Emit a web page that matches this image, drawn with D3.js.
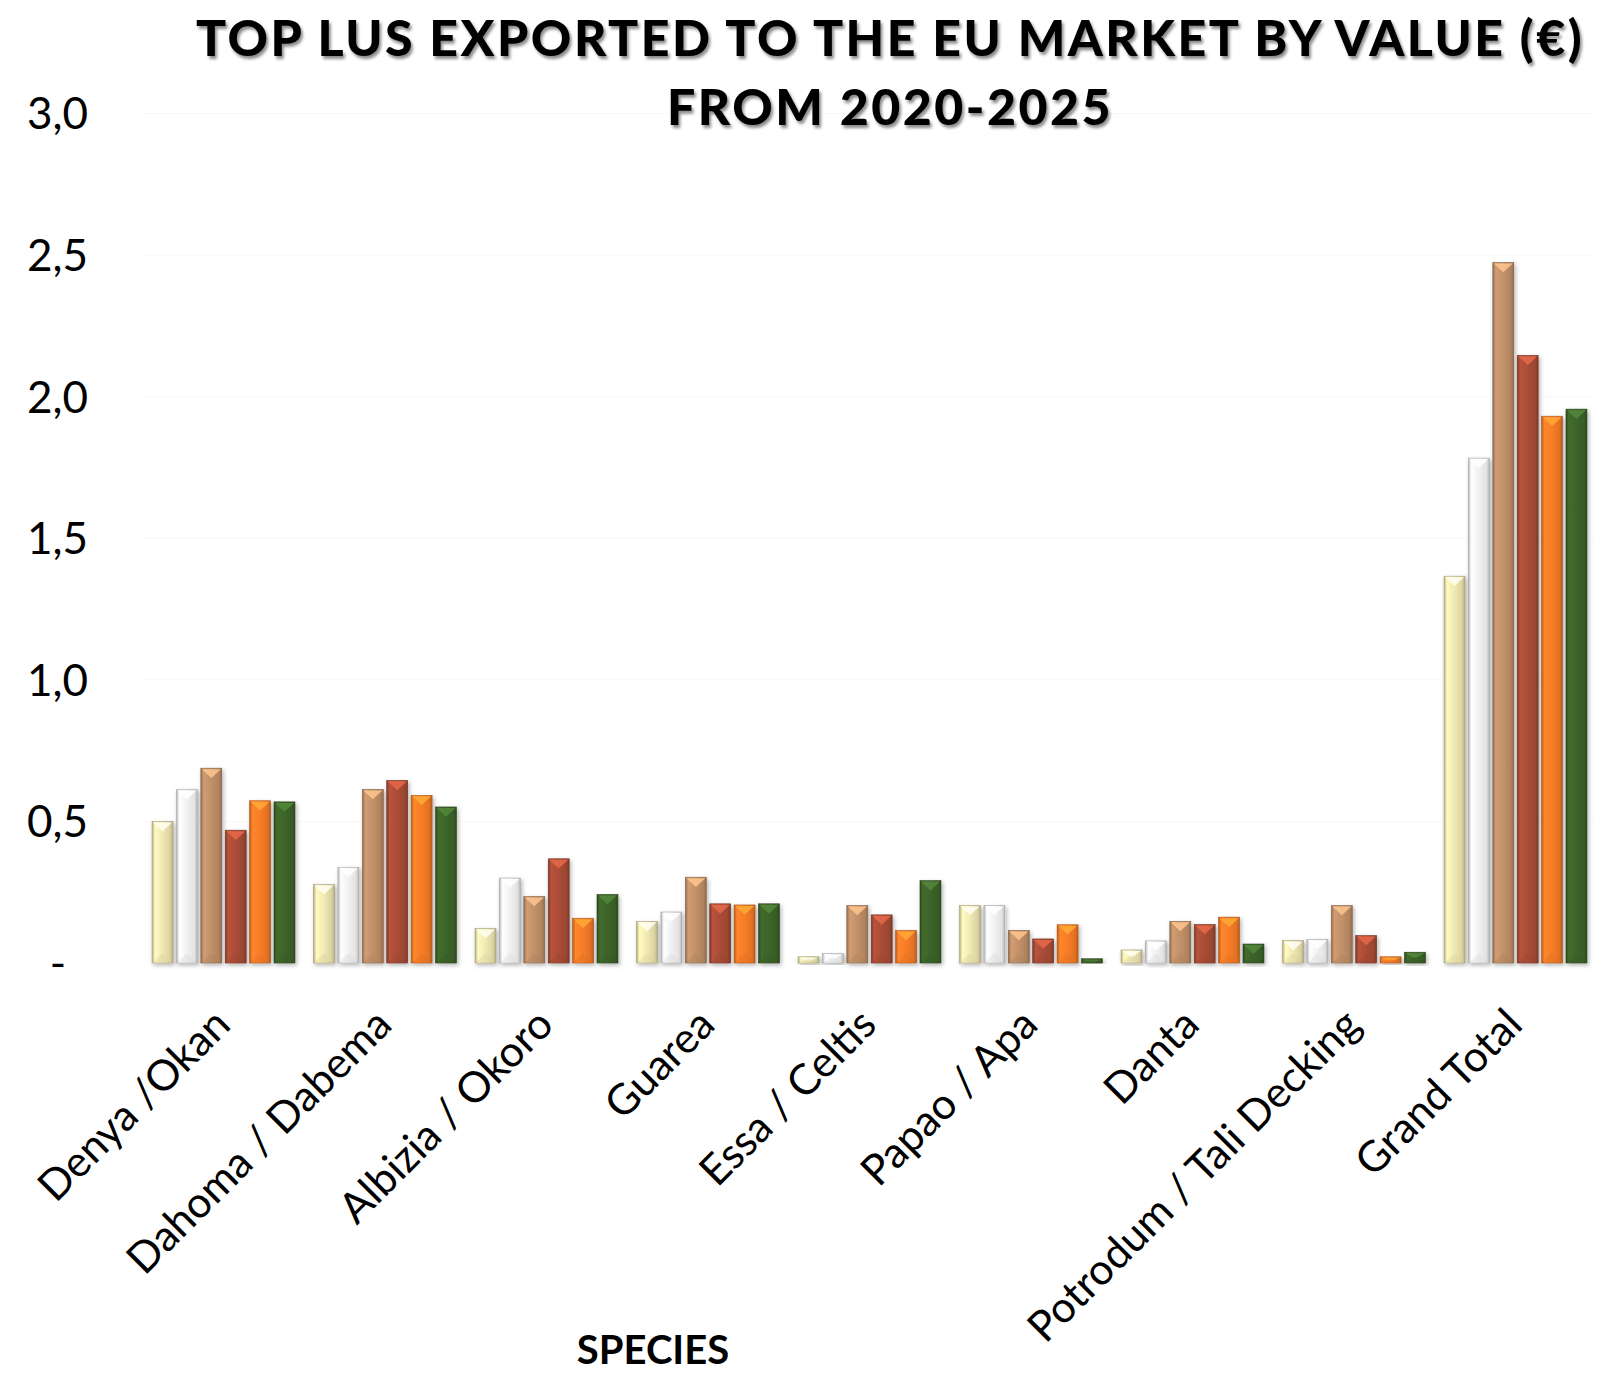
<!DOCTYPE html>
<html lang="en">
<head>
    <meta charset="UTF-8">
    <script src="https://d3js.org/d3.v7.min.js"></script>
    <title>Top LUS exported to the EU market by value</title>
    <style>
        body {
            margin: 0;
            background: #fff;
            font-family: Lato, "Open Sans", sans-serif;
        }
        .tick line, .domain {
            display: none;
        }
    </style>
</head>
<body>
    <div id="chart"></div>

    <script>
        // categories and yearly values
        const species = ["Denya /Okan", "Dahoma / Dabema", "Albizia / Okoro", "Guarea", "Essa / Celtis",
            "Papao / Apa", "Danta", "Potrodum / Tali Decking", "Grand Total"];
        const years = ["2020", "2021", "2022", "2023", "2024", "2025"];

        const v2020 = [0.50, 0.277, 0.122, 0.147, 0.022, 0.203, 0.046, 0.079, 1.366];
        const v2021 = [0.612, 0.338, 0.300, 0.180, 0.033, 0.203, 0.078, 0.083, 1.783];
        const v2022 = [0.688, 0.613, 0.235, 0.303, 0.203, 0.115, 0.147, 0.203, 2.474];
        const v2023 = [0.469, 0.645, 0.368, 0.209, 0.170, 0.085, 0.136, 0.097, 2.146];
        const v2024 = [0.573, 0.592, 0.158, 0.205, 0.115, 0.135, 0.162, 0.022, 1.931];
        const v2025 = [0.569, 0.551, 0.242, 0.209, 0.291, 0.015, 0.067, 0.038, 1.956];
        const seriesValues = [v2020, v2021, v2022, v2023, v2024, v2025];

        const yTicks = [0, 0.5, 1.0, 1.5, 2.0, 2.5, 3.0];
        const colors = ["#eee6b0", "#efefef", "#bf8f68", "#a84c36", "#f57b27", "#3c6329"];

        const W = 1613, H = 1373;

        const svg = d3.select("#chart")
            .append("svg")
            .attr("width", W)
            .attr("height", H);

        const defs = svg.append("defs");

        // soft shadow under bars
        const shadow = defs.append("filter").attr("id", "barShadow")
            .attr("x", "-30%").attr("y", "-10%").attr("width", "160%").attr("height", "130%");
        shadow.append("feDropShadow")
            .attr("dx", 1.5).attr("dy", 2).attr("stdDeviation", 2)
            .attr("flood-color", "#000").attr("flood-opacity", 0.3);

        const titleShadow = defs.append("filter").attr("id", "titleShadow")
            .attr("x", "-5%").attr("y", "-20%").attr("width", "110%").attr("height", "150%");
        titleShadow.append("feDropShadow")
            .attr("dx", 2).attr("dy", 3).attr("stdDeviation", 1.5)
            .attr("flood-color", "#000").attr("flood-opacity", 0.45);

        // bevel-like horizontal gradient per series
        colors.forEach((c, i) => {
            const base = d3.color(c);
            const g = defs.append("linearGradient").attr("id", "grad" + i)
                .attr("x1", "0%").attr("x2", "100%").attr("y1", "0%").attr("y2", "0%");
            const edge = i === 1 ? "#b5b5b5" : base.darker(0.8);
            const hi = i === 1 ? "#ffffff" : base.brighter(0.25);
            g.append("stop").attr("offset", "0%").attr("stop-color", edge);
            g.append("stop").attr("offset", "14%").attr("stop-color", hi);
            g.append("stop").attr("offset", "55%").attr("stop-color", c);
            g.append("stop").attr("offset", "86%").attr("stop-color", i === 1 ? "#e2e2e2" : base.darker(0.25));
            g.append("stop").attr("offset", "100%").attr("stop-color", edge);
        });

        // scales
        const x0 = d3.scaleBand()
            .domain(species)
            .range([143, 1596])
            .paddingInner(0.115)
            .paddingOuter(0.056);

        const x1 = d3.scaleBand()
            .domain(years)
            .range([0, x0.bandwidth()])
            .paddingInner(0.14);

        const y = d3.scaleLinear()
            .domain([0, 3])
            .range([963, 113.5]);

        // very faint gridlines
        svg.append("g")
            .selectAll("line")
            .data(yTicks.filter(d => d > 0))
            .join("line")
            .attr("x1", 143)
            .attr("x2", 1596)
            .attr("y1", d => y(d))
            .attr("y2", d => y(d))
            .attr("stroke", "#f8f8f8")
            .attr("stroke-width", 1);

        // y axis
        const yAxis = svg.append("g")
            .attr("transform", "translate(88,0)")
            .call(d3.axisLeft(y)
                .tickValues(yTicks)
                .tickSize(0)
                .tickPadding(0)
                .tickFormat(d => d === 0 ? "-" : d3.format(".1f")(d).replace(".", ",")));
        yAxis.selectAll("text")
            .style("font-family", "Lato, sans-serif")
            .style("font-size", "44px")
            .attr("fill", "#000")
            .attr("dy", "0.35em");
        yAxis.selectAll(".tick")
            .filter(d => d === 0)
            .select("text")
            .attr("x", -22);

        // bars
        const rows = [];
        species.forEach((s, si) => {
            years.forEach((yr, yi) => {
                rows.push({ species: s, year: yr, idx: yi, value: seriesValues[yi][si] });
            });
        });

        const groups = svg.append("g")
            .selectAll("g")
            .data(rows)
            .join("g")
            .attr("transform", d => `translate(${x0(d.species) + x1(d.year)},0)`);

        const bw = x1.bandwidth();

        groups.append("rect")
            .attr("x", 0)
            .attr("y", d => y(d.value))
            .attr("width", bw)
            .attr("height", d => y(0) - y(d.value))
            .attr("fill", d => `url(#grad${d.idx})`)
            .attr("stroke", d => d.idx === 1 ? "#a8a8a8" : d3.color(colors[d.idx]).darker(1))
            .attr("stroke-width", 0.6)
            .attr("filter", "url(#barShadow)");

        // top bevel triangle
        groups.append("path")
            .attr("d", d => {
                const top = y(d.value);
                const h = Math.min(bw * 0.42, (y(0) - top) / 2);
                return `M1,${top + 1} L${bw - 1},${top + 1} L${bw / 2},${top + 1 + h} Z`;
            })
            .attr("fill", d => d.idx === 1 ? "#ffffff" : d3.color(colors[d.idx]).brighter(0.9))
            .attr("opacity", 0.85);

        // bottom bevel triangle (faint)
        groups.append("path")
            .attr("d", d => {
                const top = y(d.value);
                const h = Math.min(bw * 0.42, (y(0) - top) / 2);
                return `M1,${y(0) - 1} L${bw - 1},${y(0) - 1} L${bw / 2},${y(0) - 1 - h} Z`;
            })
            .attr("fill", d => d3.color(colors[d.idx]).darker(0.3))
            .attr("opacity", 0.35);

        // x labels, rotated
        svg.append("g")
            .selectAll("text")
            .data(species)
            .join("text")
            .attr("transform", d => `translate(${x0(d) + x0.bandwidth() / 2 + 9},1027) rotate(-45)`)
            .attr("text-anchor", "end")
            .style("font-family", "Lato, sans-serif")
            .style("font-size", "42.5px")
            .attr("fill", "#000")
            .text(d => d);

        // axis title
        svg.append("text")
            .attr("x", 653)
            .attr("y", 1364)
            .attr("text-anchor", "middle")
            .style("font-family", "Lato, sans-serif")
            .style("font-weight", "bold")
            .style("font-size", "40px")
            .text("SPECIES");

        // chart title
        const title = svg.append("text")
            .attr("text-anchor", "middle")
            .style("font-family", "Lato, sans-serif")
            .style("font-weight", "900")
            .style("font-size", "50px")
            .style("letter-spacing", "2.5px")
            .attr("filter", "url(#titleShadow)");
        title.append("tspan").attr("x", 890).attr("y", 56).text("TOP LUS EXPORTED TO THE EU MARKET BY VALUE (€)");
        title.append("tspan").attr("x", 890).attr("y", 125).text("FROM 2020-2025");
    </script>
</body>
</html>
